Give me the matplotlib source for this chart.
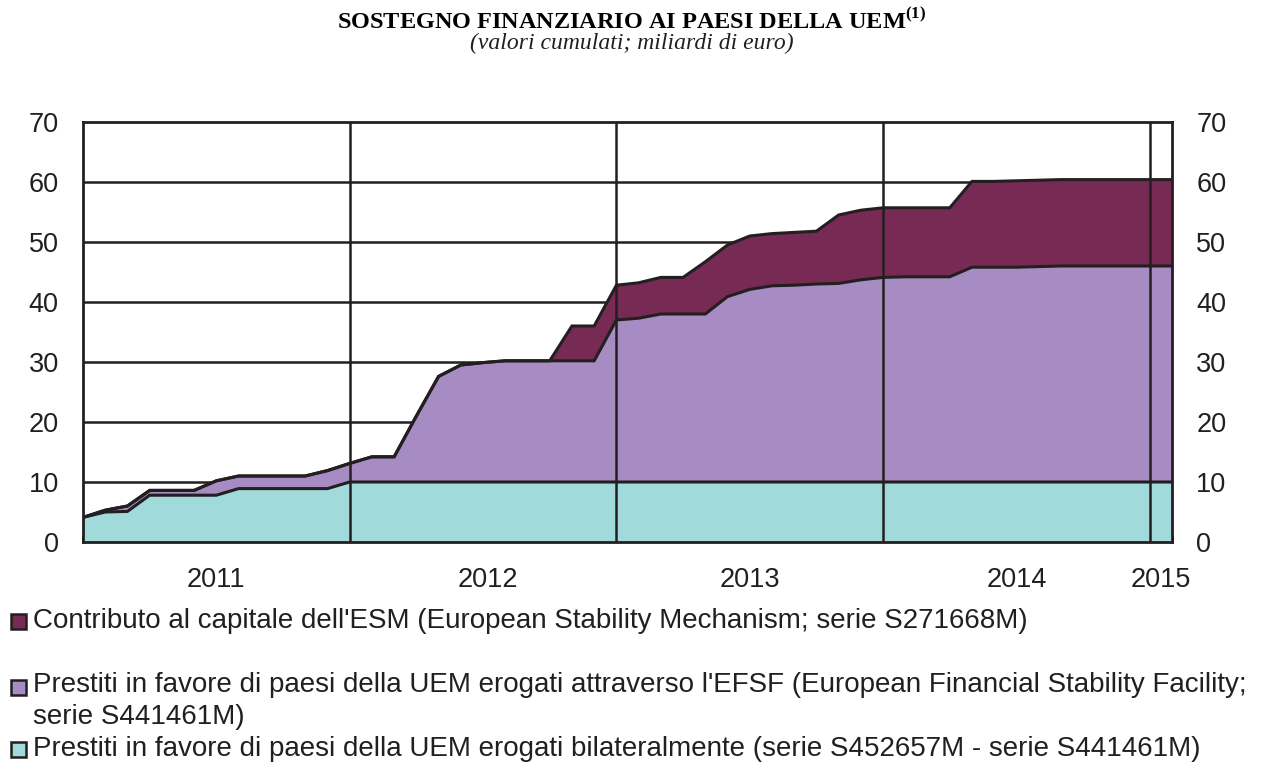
from __future__ import annotations

import matplotlib

matplotlib.use("Agg")
import matplotlib.pyplot as plt
from matplotlib.patches import Rectangle

# monthly values, Jan 2011 .. Feb 2015 (miliardi di euro)
bilaterali = [
    4.1, 5.0, 5.1, 7.8, 7.8, 7.8, 7.8, 8.9, 8.9, 8.9, 8.9, 8.9,
    10.0, 10.0, 10.0, 10.0, 10.0, 10.0, 10.0, 10.0, 10.0, 10.0, 10.0, 10.0,
    10.0, 10.0, 10.0, 10.0, 10.0, 10.0, 10.0, 10.0, 10.0, 10.0, 10.0, 10.0,
    10.0, 10.0, 10.0, 10.0, 10.0, 10.0, 10.0, 10.0, 10.0, 10.0, 10.0, 10.0,
    10.0, 10.0,
]
efsf = [
    0.0, 0.3, 0.9, 0.8, 0.8, 0.8, 2.4, 2.1, 2.1, 2.1, 2.1, 3.0,
    3.1, 4.2, 4.2, 11.0, 17.6, 19.5, 19.9, 20.2, 20.2, 20.2, 20.2, 20.2,
    27.0, 27.3, 28.0, 28.0, 28.0, 30.9, 32.1, 32.7, 32.8, 33.0, 33.1, 33.7,
    34.1, 34.2, 34.2, 34.2, 35.8, 35.8, 35.8, 35.9, 36.0, 36.0, 36.0, 36.0,
    36.0, 36.0,
]
esm = [
    0.0, 0.0, 0.0, 0.0, 0.0, 0.0, 0.0, 0.0, 0.0, 0.0, 0.0, 0.0,
    0.0, 0.0, 0.0, 0.0, 0.0, 0.0, 0.0, 0.0, 0.0, 0.0, 5.8, 5.8,
    5.8, 5.9, 6.1, 6.1, 8.7, 8.6, 8.9, 8.7, 8.8, 8.8, 11.4, 11.6,
    11.6, 11.5, 11.5, 11.5, 14.3, 14.3, 14.4, 14.4, 14.4, 14.4, 14.4, 14.4,
    14.4, 14.4,
]
year_labels = ["2011", "2012", "2013", "2014", "2015"]
year_label_pos = [6, 18.2, 30, 42, 48.5]
year_breaks = [12, 24, 36, 48]

legend_labels = [
    "Contributo al capitale dell'ESM (European Stability Mechanism; serie S271668M)",
    "Prestiti in favore di paesi della UEM erogati attraverso l'EFSF (European Financial Stability Facility;\nserie S441461M)",
    "Prestiti in favore di paesi della UEM erogati bilateralmente (serie S452657M - serie S441461M)",
]

C_BIL = "#a0dadb"
C_EFSF = "#a78cc3"
C_ESM = "#772b54"
INK = "#231f20"

plt.rcParams["font.family"] = ["Liberation Sans", "DejaVu Sans"]
plt.rcParams["mathtext.fontset"] = "custom"
plt.rcParams["mathtext.rm"] = "Liberation Serif"
plt.rcParams["mathtext.bf"] = "Liberation Serif:bold"

fig = plt.figure(figsize=(12.66, 7.64), dpi=100)
ax = fig.add_axes([83 / 1266, 1 - 542 / 764, (1172 - 83) / 1266, (542 - 122) / 764])

x = list(range(len(bilaterali)))
top_bil = [b for b in bilaterali]
top_efsf = [b + e for b, e in zip(bilaterali, efsf)]
top_esm = [t + s for t, s in zip(top_efsf, esm)]

ax.fill_between(x, 0, top_bil, color=C_BIL, lw=0, zorder=2)
ax.fill_between(x, top_bil, top_efsf, color=C_EFSF, lw=0, zorder=2)
ax.fill_between(x, top_efsf, top_esm, color=C_ESM, lw=0, zorder=2)
for top in (top_bil, top_efsf, top_esm):
    ax.plot(x, top, color=INK, lw=2.2, zorder=3, solid_joinstyle="miter")

for v in range(10, 70, 10):
    ax.axhline(v, color=INK, lw=1.8, zorder=1)
for xb in year_breaks:
    ax.axvline(xb, color=INK, lw=1.8, zorder=4)

ax.set_xlim(0, len(x) - 1)
ax.set_ylim(0, 70)
ax.set_yticks(range(0, 80, 10))
ax.tick_params(axis="y", which="both", left=False, right=False,
               labelleft=True, labelright=True, labelsize=19.5, pad=14,
               labelcolor=INK)

ax.set_xticks(list(range(6, len(x), 12)))
ax.set_xticks(x, minor=True)
ax.set_xticklabels([])
ax.tick_params(axis="x", which="major", direction="in", length=9, width=2, color=INK)
ax.tick_params(axis="x", which="minor", direction="in", length=5, width=2, color=INK)
for lab, pos in zip(year_labels, year_label_pos):
    ax.text(pos, -6.4, lab, ha="center", va="center", fontsize=19.5, color=INK)

for sp in ax.spines.values():
    sp.set_color(INK)
    sp.set_linewidth(2)
    sp.set_zorder(5)

fig.text(632 / 1266, 1 - 21 / 764,
         r"SOSTEGNO FINANZIARIO AI PAESI DELLA UEM$^{\mathbf{(1)}}$",
         ha="center", va="center", fontsize=17.5, fontweight="bold",
         family="Liberation Serif", color="black")
fig.text(632 / 1266, 1 - 43 / 764, "(valori cumulati; miliardi di euro)",
         ha="center", va="center", fontsize=17, style="italic",
         family="Liberation Serif", color=INK)

legend_y = [621, 687, 749]
legend_colors = [C_ESM, C_EFSF, C_BIL]
for lab, yy, col in zip(legend_labels, legend_y, legend_colors):
    fig.patches.append(Rectangle((11 / 1266, 1 - (yy + 8) / 764), 15 / 1266, 15 / 764,
                                 transform=fig.transFigure, facecolor=col,
                                 edgecolor=INK, lw=1.8))
    fig.text(33 / 1266, 1 - yy / 764, lab, ha="left", va="top" if "\n" in lab else "center",
             fontsize=20, color=INK, linespacing=1.28)

# multiline entry: shift so first line is centred on its marker
fig.texts[-2].set_y(1 - (legend_y[1] - 15) / 764)

fig.savefig("out.png", dpi=100)
